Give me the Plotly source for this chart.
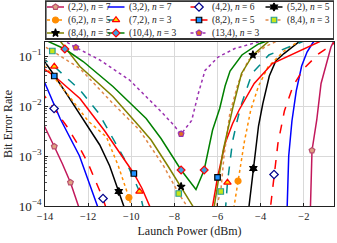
import plotly.graph_objects as go

# ---------------- data (launch power in dBm, BER) ----------------
labels = ["(2,2), <i>n</i> = 7", "(3,2), <i>n</i> = 7", "(4,2), <i>n</i> = 6", "(5,2), <i>n</i> = 5",
          "(6,2), <i>n</i> = 5", "(7,2), <i>n</i> = 3", "(8,2), <i>n</i> = 5", "(8,4), <i>n</i> = 3",
          "(8,4), <i>n</i> = 5", "(10,4), <i>n</i> = 3", "(13,4), <i>n</i> = 3"]

x_22n7 = [-14.2, -14.0, -13.57, -13.2, -12.82, -12.45, -12.2, -1.72, -1.69, -1.62, -1.4, -1.2, -0.74, -0.5]
y_22n7 = [5.62e-3, 3.80e-3, 1.55e-3, 7.08e-4, 2.95e-4, 1.0e-4, 5.0e-5, 5.0e-5, 1.0e-4, 1.29e-3, 5.25e-3, 2.82e-2, 0.151, 0.251]
mx_22n7 = [-13.57, -12.82, -1.62]
my_22n7 = [1.55e-3, 2.95e-4, 1.29e-3]

x_32n7 = [-14.2, -14.0, -13.3, -12.4, -11.8, -11.57, -11.4, -2.85, -2.77, -2.7, -2.55, -2.35, -2.1, -1.85, -1.59, -1.3]
y_32n7 = [4.47e-2, 2.82e-2, 5.62e-3, 1.0e-3, 2.0e-4, 1.0e-4, 5.0e-5, 5.0e-5, 1.0e-4, 1.0e-3, 5.01e-3, 2.0e-2, 6.31e-2, 0.120, 0.182, 0.251]
mx_32n7 = []
my_32n7 = []

x_42n6 = [-14.2, -14.0, -13.58, -13.0, -12.5, -12.0, -11.6, -11.31, -11.2, -11.0,
          -3.62, -3.54, -3.38, -3.2, -2.9, -2.5, -2.0, -1.3, -0.7, -0.4]
y_42n6 = [2.0e-2, 1.55e-2, 8.91e-3, 3.98e-3, 1.78e-3, 7.08e-4, 2.82e-4, 1.41e-4, 1.0e-4, 5.0e-5,
          5.0e-5, 1.0e-4, 4.27e-4, 1.78e-3, 7.94e-3, 2.51e-2, 5.62e-2, 0.112, 0.166, 0.209]
mx_42n6 = [-13.58, -11.31, -3.38]
my_42n6 = [8.91e-3, 1.41e-4, 4.27e-4]

x_52n5 = [-14.2, -14.0, -13.58, -12.9, -12.23, -11.46, -11.0, -10.58, -10.35, -10.2,
          -4.62, -4.54, -4.34, -4.1, -3.9, -3.6, -3.3, -2.92, -2.23, -1.9]
y_52n5 = [0.1, 7.59e-2, 4.17e-2, 1.51e-2, 5.25e-3, 1.66e-3, 6.31e-4, 1.95e-4, 1.0e-4, 5.0e-5,
          5.0e-5, 1.0e-4, 5.62e-4, 3.98e-3, 1.12e-2, 3.98e-2, 7.94e-2, 0.112, 0.191, 0.229]
mx_52n5 = [-10.58, -4.34]
my_52n5 = [1.95e-4, 5.62e-4]

x_62n5 = [-14.2, -14.0, -13.5, -12.8, -12.0, -11.15, -10.6, -10.11, -10.0, -9.85,
          -5.32, -5.23, -5.05, -4.75, -4.46, -4.1, -3.66, -2.89, -2.28, -2.0]
y_62n5 = [7.94e-2, 6.31e-2, 3.39e-2, 1.41e-2, 5.01e-3, 2.40e-3, 6.31e-4, 1.48e-4, 1.0e-4, 5.0e-5,
          5.0e-5, 1.0e-4, 3.16e-4, 2.0e-3, 8.32e-3, 2.51e-2, 6.03e-2, 0.129, 0.191, 0.224]
mx_62n5 = [-10.11, -5.05]
my_62n5 = [1.48e-4, 3.16e-4]

x_72n3 = [-14.2, -14.0, -13.57, -12.38, -11.5, -10.85, -10.2, -9.62, -9.46, -9.3,
          -5.7, -5.62, -5.54, -5.3, -5.08, -4.92, -4.4, -3.62, -2.1, -1.8]
y_72n3 = [0.1, 8.32e-2, 6.17e-2, 2.09e-2, 7.08e-3, 2.24e-3, 7.08e-4, 1.95e-4, 1.0e-4, 5.0e-5,
          5.0e-5, 1.0e-4, 2.95e-4, 2.0e-3, 5.25e-3, 1.0e-2, 4.47e-2, 0.105, 0.191, 0.219]
mx_72n3 = [-13.57, -9.62, -5.54]
my_72n3 = [6.17e-2, 1.95e-4, 2.95e-4]

x_82n5 = [-14.2, -14.0, -13.57, -12.38, -11.23, -10.5, -9.88, -9.5, -9.15, -9.0,
          -6.32, -6.23, -6.0, -5.65, -5.3, -5.0, -4.3, -3.46, -2.08, -1.31, -1.0]
y_82n5 = [6.61e-2, 5.37e-2, 3.98e-2, 1.41e-2, 3.16e-3, 1.12e-3, 4.47e-4, 2.24e-4, 1.0e-4, 5.0e-5,
          5.0e-5, 1.0e-4, 3.72e-4, 1.78e-3, 4.47e-3, 8.32e-3, 2.82e-2, 7.08e-2, 0.135, 0.191, 0.219]
mx_82n5 = [-13.57, -9.88, -6.0]
my_82n5 = [3.98e-2, 4.47e-4, 3.72e-4]

x_84n3 = [-14.2, -14.0, -13.66, -12.38, -10.85, -9.62, -8.5, -7.8, -7.42, -7.25,
          -6.15, -6.05, -5.85, -5.7, -5.43, -5.05, -4.58, -3.82, -3.35, -3.0]
y_84n3 = [0.170, 0.151, 0.126, 5.62e-2, 1.12e-2, 3.31e-3, 6.31e-4, 1.78e-4, 1.0e-4, 5.0e-5,
          5.0e-5, 1.0e-4, 1.95e-4, 1.0e-3, 7.08e-3, 2.82e-2, 8.13e-2, 0.151, 0.191, 0.224]
mx_84n3 = [-13.66, -7.8, -5.85]
my_84n3 = [0.126, 1.78e-4, 1.95e-4]

x_84n5 = [-13.5, -13.3, -12.38, -10.85, -9.62, -9.08, -8.3, -7.69, -7.15, -7.0,
          -6.25, -6.15, -5.74, -5.3, -4.89, -4.36, -3.66, -3.3]
y_84n5 = [0.240, 0.2, 6.17e-2, 1.55e-2, 3.89e-3, 2.09e-3, 6.31e-4, 2.45e-4, 1.0e-4, 5.0e-5,
          5.0e-5, 1.0e-4, 1.29e-3, 8.91e-3, 4.47e-2, 0.105, 0.191, 0.240]
mx_84n5 = [-7.69, -4.36]
my_84n5 = [2.45e-4, 0.105]

x_104n3 = [-14.2, -14.0, -13.08, -12.23, -10.85, -9.31, -8.62, -7.69, -7.0, -6.62,
           -6.23, -5.9, -5.65, -5.42, -4.87, -4.1, -3.7, -3.3]
y_104n3 = [0.234, 0.209, 0.138, 7.76e-2, 2.45e-2, 5.62e-3, 2.24e-3, 5.25e-4, 2.14e-4, 5.25e-4,
           3.31e-3, 8.91e-3, 2.51e-2, 5.01e-2, 0.105, 0.174, 0.2, 0.229]
mx_104n3 = [-13.08, -7.69, -6.62]
my_104n3 = [0.138, 5.25e-4, 5.25e-4]

x_134n3 = [-13.7, -13.3, -12.57, -11.46, -10.08, -8.69, -8.1, -7.69, -7.2, -6.89,
           -6.58, -5.97, -5.2, -4.12, -3.5]
y_134n3 = [0.282, 0.224, 0.148, 8.32e-2, 3.31e-2, 8.32e-3, 4.47e-3, 2.75e-3, 5.13e-3, 1.78e-2,
           5.13e-2, 9.55e-2, 0.141, 0.191, 0.229]
mx_134n3 = [-12.57, -7.69]
my_134n3 = [0.148, 2.75e-3]

xs = [x_22n7, x_32n7, x_42n6, x_52n5, x_62n5, x_72n3, x_82n5, x_84n3, x_84n5, x_104n3, x_134n3]
ys = [y_22n7, y_32n7, y_42n6, y_52n5, y_62n5, y_72n3, y_82n5, y_84n3, y_84n5, y_104n3, y_134n3]
mxs = [mx_22n7, mx_32n7, mx_42n6, mx_52n5, mx_62n5, mx_72n3, mx_82n5, mx_84n3, mx_84n5, mx_104n3, mx_134n3]
mys = [my_22n7, my_32n7, my_42n6, my_52n5, my_62n5, my_72n3, my_82n5, my_84n3, my_84n5, my_104n3, my_134n3]

x_ticks = [-14, -12, -10, -8, -6, -4, -2]

# ---------------- styles ----------------
styles = [
    dict(color="#c2185b", dash="solid", sym="pentagon", fill="#e0a383", edge="#b8506e", size=6),
    dict(color="#0000ff", dash="solid", sym=None, fill=None, edge=None, size=0),
    dict(color="#ff0000", dash="dash", sym="diamond", fill="#ffffff", edge="#00008b", size=6.5),
    dict(color="#000000", dash="solid", sym="hexagram", fill="#000000", edge="#000000", size=6),
    dict(color="#ff8c00", dash="dot", sym="circle", fill="#ff8c00", edge="#ff8c00", size=6),
    dict(color="#008b8b", dash="dash", sym="triangle-up", fill="#ffd700", edge="#ff0000", size=6.5),
    dict(color="#ff0000", dash="solid", sym="square", fill="#1e90ff", edge="#000000", size=5.5),
    dict(color="#e0894a", dash="dot", sym="square", fill="#c8e619", edge="#2a9d8f", size=5.5),
    dict(color="#808000", dash="solid", sym="star", fill="#000000", edge="#000000", size=6),
    dict(color="#008000", dash="solid", sym="diamond", fill="#3fa0e0", edge="#ff0000", size=6),
    dict(color="#9b30b0", dash="dot", sym="pentagon", fill="#e07020", edge="#9b30b0", size=6),
]

FONT = "Liberation Serif"
fig = go.Figure()

for i in range(len(xs)):
    st = styles[i]
    fig.add_trace(go.Scatter(x=xs[i], y=ys[i], mode="lines", showlegend=False,
                             line=dict(color=st["color"], width=1.5, dash=st["dash"]),
                             xaxis="x", yaxis="y", hoverinfo="skip"))
for i in range(len(xs)):
    st = styles[i]
    if st["sym"] and mxs[i]:
        fig.add_trace(go.Scatter(x=mxs[i], y=mys[i], mode="markers", showlegend=False,
                                 marker=dict(symbol=st["sym"], size=st["size"], color=st["fill"],
                                             line=dict(color=st["edge"], width=1.2)),
                                 xaxis="x", yaxis="y", hoverinfo="skip"))

# ---------------- custom legend (pixel-like coordinates on helper axes) ----------------
col_x = [47, 107.5, 190.5, 265.5]
row_y = [7, 20, 33]
sym_w = 17
annotations = []
for i, lab in enumerate(labels):
    r, c = divmod(i, 4)
    x0 = col_x[c]
    y0 = row_y[r]
    st = styles[i]
    fig.add_trace(go.Scatter(x=[x0, x0 + sym_w], y=[y0, y0], mode="lines", showlegend=False,
                             line=dict(color=st["color"], width=1.5, dash=st["dash"]),
                             xaxis="x2", yaxis="y2", hoverinfo="skip"))
    if st["sym"]:
        fig.add_trace(go.Scatter(x=[x0 + sym_w / 2], y=[y0], mode="markers", showlegend=False,
                                 marker=dict(symbol=st["sym"], size=st["size"], color=st["fill"],
                                             line=dict(color=st["edge"], width=1.2)),
                                 xaxis="x2", yaxis="y2", hoverinfo="skip"))
    annotations.append(dict(x=x0 + sym_w + 2, y=y0, xref="x2", yref="y2", text=lab,
                            showarrow=False, xanchor="left", yanchor="middle",
                            font=dict(family=FONT, size=9.5, color="#222")))

fig.update_layout(
    width=337, height=243,
    margin=dict(l=45, r=3, t=0, b=37),
    paper_bgcolor="white", plot_bgcolor="white",
    showlegend=False,
    font=dict(family=FONT, size=10.5, color="#222"),
    annotations=annotations,
    shapes=[dict(type="rect", xref="x2", yref="y2", x0=45.7, x1=334, y0=1.2, y1=39,
                 line=dict(color="#333", width=1.8), fillcolor="rgba(0,0,0,0)", layer="above")],
    xaxis=dict(domain=[0, 1], range=[-14, -0.6], tickvals=x_ticks, ticktext=["\u2212" + str(-v) for v in x_ticks],
               showgrid=True, gridcolor="#d9d9d9", gridwidth=1, zeroline=False,
               showline=True, linecolor="#222", linewidth=1.3, mirror=True,
               ticks="inside", ticklen=3, tickcolor="#222",
               title=dict(text="Launch Power (dBm)", font=dict(family=FONT, size=12), standoff=5),
               automargin=False, anchor="y"),
    yaxis=dict(domain=[0, 164 / 206], type="log", range=[-4, -0.72], dtick=1,
               exponentformat="power", showexponent="all",
               showgrid=True, gridcolor="#d9d9d9", gridwidth=1, zeroline=False,
               showline=True, linecolor="#222", linewidth=1.3, mirror=True,
               ticks="inside", ticklen=3, tickcolor="#222",
               minor=dict(ticks="inside", ticklen=1.5, tickcolor="#555", showgrid=False),
               title=dict(text="Bit Error Rate", font=dict(family=FONT, size=12), standoff=3),
               automargin=False, anchor="x"),
    xaxis2=dict(domain=[0, 1], range=[45, 334], visible=False, anchor="y2", fixedrange=True),
    yaxis2=dict(domain=[1 - 41 / 206, 1], range=[41, 0], visible=False, anchor="x2", fixedrange=True),
)

fig.write_html("out.html", config={"displayModeBar": False, "staticPlot": True},
               post_script="document.body.style.margin='0';document.body.style.padding='0';")
